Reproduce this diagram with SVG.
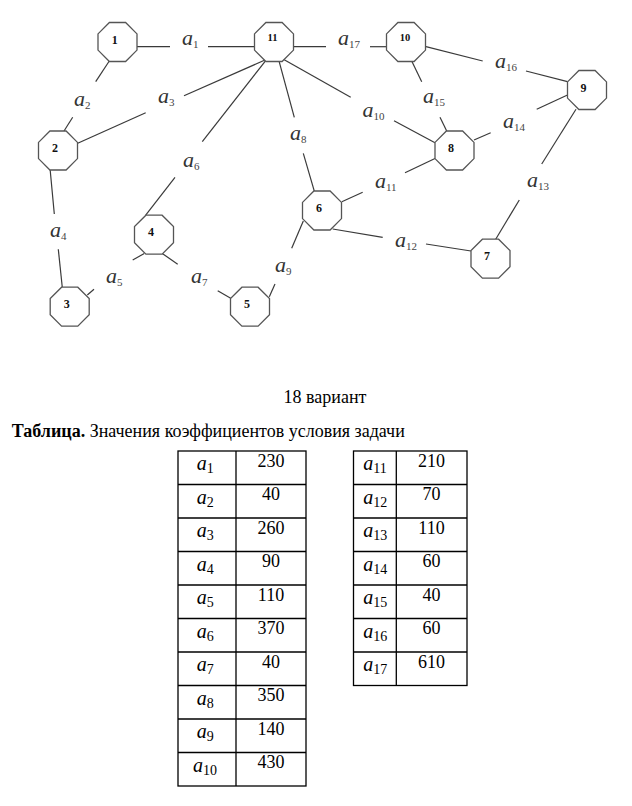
<svg xmlns="http://www.w3.org/2000/svg" width="632" height="806" viewBox="0 0 632 806">
<style>
.oct{fill:#fff;stroke:#555;stroke-width:1.3}
.nl{font-family:"Liberation Serif",serif;font-weight:bold;font-size:12px;fill:#111;text-anchor:middle}
.nl2{font-family:"Liberation Serif",serif;font-weight:bold;font-size:10.5px;fill:#111;text-anchor:middle}
.e line{stroke:#3a3a3a;stroke-width:1.2}
.lbl{font-family:"Liberation Serif",serif;font-style:italic;font-size:22px;fill:#333}
.sub{font-family:"Liberation Serif",serif;font-style:normal;font-size:11px;fill:#444}
.cap{font-family:"Liberation Serif",serif;font-size:18px;fill:#000}
.tb line,.tb rect{stroke:#000;stroke-width:1.3;fill:none}
.ta{font-family:"Liberation Serif",serif;font-style:italic;font-size:20px;fill:#000}
.ts{font-family:"Liberation Serif",serif;font-style:normal;font-size:14px;fill:#000}
.tv{font-family:"Liberation Serif",serif;font-size:18px;fill:#000;text-anchor:middle}
</style>
<defs>
<polygon id="oct" points="-8.1,-19.5 8.1,-19.5 19.5,-8.1 19.5,8.1 8.1,19.5 -8.1,19.5 -19.5,8.1 -19.5,-8.1"/>
</defs>
<rect width="632" height="806" fill="#fff"/>
<g id="connectors" class="e">
<line x1="136.7" y1="46.7" x2="170" y2="46.7"/><line x1="208" y1="46.7" x2="254.5" y2="46.7"/>
<line x1="109.3" y1="61" x2="95.7" y2="81.7"/><line x1="72.7" y1="117.3" x2="64" y2="131"/>
<line x1="266.7" y1="59.3" x2="184" y2="95.7"/><line x1="145.7" y1="112.7" x2="77.7" y2="143.3"/>
<line x1="50" y1="168.3" x2="54.3" y2="214"/><line x1="58.3" y1="249.3" x2="62.3" y2="287.5"/>
<line x1="144.3" y1="253.5" x2="132.7" y2="260"/><line x1="94" y1="289.3" x2="87.3" y2="295"/>
<line x1="266.7" y1="59.3" x2="202.3" y2="141.7"/><line x1="175" y1="177.3" x2="145.7" y2="215.2"/>
<line x1="162.3" y1="253.5" x2="177.7" y2="264.3"/><line x1="217.7" y1="290.7" x2="230.7" y2="298.3"/>
<line x1="278.3" y1="58.3" x2="294.3" y2="117.3"/><line x1="303.3" y1="153.3" x2="314.3" y2="191.2"/>
<line x1="303.3" y1="221" x2="291.7" y2="248.3"/><line x1="275" y1="284" x2="269.3" y2="296.7"/>
<line x1="282" y1="58.5" x2="350.7" y2="97.3"/><line x1="394" y1="120.7" x2="435" y2="142.7"/>
<line x1="435" y1="158.5" x2="405" y2="172.7"/><line x1="362.7" y1="192.3" x2="341.8" y2="201.7"/>
<line x1="332.7" y1="229" x2="382.7" y2="237.3"/><line x1="426" y1="244" x2="471" y2="251"/>
<line x1="576" y1="109.3" x2="541.7" y2="164"/><line x1="519.3" y1="200" x2="495.7" y2="239.2"/>
<line x1="567.5" y1="95" x2="536.7" y2="109.3"/><line x1="490.7" y1="132.7" x2="474" y2="140"/>
<line x1="411.7" y1="61" x2="421.7" y2="81.7"/><line x1="440" y1="117.3" x2="446.7" y2="131"/>
<line x1="426" y1="46.7" x2="482.7" y2="61"/><line x1="526" y1="71" x2="567.5" y2="81.7"/>
<line x1="293.5" y1="46.7" x2="326" y2="46.7"/><line x1="370" y1="46.7" x2="386.5" y2="46.7"/>
</g>
<g id="edge-labels">
<text class="lbl" x="182" y="45">a<tspan class="sub" dy="3">1</tspan></text>
<text class="lbl" x="74" y="106">a<tspan class="sub" dy="3">2</tspan></text>
<text class="lbl" x="158" y="103">a<tspan class="sub" dy="3">3</tspan></text>
<text class="lbl" x="50" y="237">a<tspan class="sub" dy="3">4</tspan></text>
<text class="lbl" x="106" y="283">a<tspan class="sub" dy="3">5</tspan></text>
<text class="lbl" x="183" y="167">a<tspan class="sub" dy="3">6</tspan></text>
<text class="lbl" x="191" y="283">a<tspan class="sub" dy="3">7</tspan></text>
<text class="lbl" x="290" y="140">a<tspan class="sub" dy="3">8</tspan></text>
<text class="lbl" x="275" y="272">a<tspan class="sub" dy="3">9</tspan></text>
<text class="lbl" x="362.5" y="117">a<tspan class="sub" dy="3">10</tspan></text>
<text class="lbl" x="375" y="188">a<tspan class="sub" dy="3">11</tspan></text>
<text class="lbl" x="395" y="247">a<tspan class="sub" dy="3">12</tspan></text>
<text class="lbl" x="527" y="187">a<tspan class="sub" dy="3">13</tspan></text>
<text class="lbl" x="503" y="128">a<tspan class="sub" dy="3">14</tspan></text>
<text class="lbl" x="423" y="103">a<tspan class="sub" dy="3">15</tspan></text>
<text class="lbl" x="495" y="68">a<tspan class="sub" dy="3">16</tspan></text>
<text class="lbl" x="338" y="45">a<tspan class="sub" dy="3">17</tspan></text>
</g>
<g id="node-1"><use href="#oct" class="oct" x="117.5" y="42"/><text class="nl" x="114.7" y="43.5">1</text></g>
<g id="node-11"><use href="#oct" class="oct" x="274" y="42"/><text class="nl2" x="272.5" y="40.7">11</text></g>
<g id="node-10"><use href="#oct" class="oct" x="406" y="42"/><text class="nl2" x="405" y="40.7">10</text></g>
<g id="node-2"><use href="#oct" class="oct" x="58" y="150.5"/><text class="nl" x="55" y="152.3">2</text></g>
<g id="node-9"><use href="#oct" class="oct" x="587" y="90"/><text class="nl" x="583.5" y="91.7">9</text></g>
<g id="node-8"><use href="#oct" class="oct" x="454.5" y="150.5"/><text class="nl" x="451" y="151.7">8</text></g>
<g id="node-4"><use href="#oct" class="oct" x="154" y="234.7"/><text class="nl" x="151" y="236">4</text></g>
<g id="node-6"><use href="#oct" class="oct" x="322" y="210.5"/><text class="nl" x="319" y="212.3">6</text></g>
<g id="node-7"><use href="#oct" class="oct" x="490.5" y="258.7"/><text class="nl" x="487" y="260">7</text></g>
<g id="node-3"><use href="#oct" class="oct" x="69.7" y="306.7"/><text class="nl" x="66.7" y="308.3">3</text></g>
<g id="node-5"><use href="#oct" class="oct" x="250" y="306.7"/><text class="nl" x="247" y="308.3">5</text></g>
<text class="cap" x="325" y="403.3" text-anchor="middle">18 вариант</text>
<text class="cap" x="11.7" y="436.7"><tspan font-weight="bold">Таблица.</tspan> Значения коэффициентов условия задачи</text>
<g id="table-left" class="tb">
<rect x="178" y="451" width="128" height="335"/>
<line x1="236" y1="451" x2="236" y2="786"/>
<line x1="178" y1="484.5" x2="306" y2="484.5"/><line x1="178" y1="518" x2="306" y2="518"/>
<line x1="178" y1="551.5" x2="306" y2="551.5"/><line x1="178" y1="585" x2="306" y2="585"/>
<line x1="178" y1="618.5" x2="306" y2="618.5"/><line x1="178" y1="652" x2="306" y2="652"/>
<line x1="178" y1="685.5" x2="306" y2="685.5"/><line x1="178" y1="719" x2="306" y2="719"/>
<line x1="178" y1="752.5" x2="306" y2="752.5"/>
</g>
<g id="table-right" class="tb">
<rect x="353.5" y="451" width="113.5" height="234.5"/>
<line x1="396.3" y1="451" x2="396.3" y2="685.5"/>
<line x1="353.5" y1="484.5" x2="467" y2="484.5"/><line x1="353.5" y1="518" x2="467" y2="518"/>
<line x1="353.5" y1="551.5" x2="467" y2="551.5"/><line x1="353.5" y1="585" x2="467" y2="585"/>
<line x1="353.5" y1="618.5" x2="467" y2="618.5"/><line x1="353.5" y1="652" x2="467" y2="652"/>
</g>
<g id="table-text">
<text class="ta" x="196.7" y="470">a<tspan class="ts" dy="3.3">1</tspan></text><text class="tv" x="271" y="466.7">230</text>
<text class="ta" x="196.7" y="503.5">a<tspan class="ts" dy="3.3">2</tspan></text><text class="tv" x="271" y="500.2">40</text>
<text class="ta" x="196.7" y="537">a<tspan class="ts" dy="3.3">3</tspan></text><text class="tv" x="271" y="533.7">260</text>
<text class="ta" x="196.7" y="570.5">a<tspan class="ts" dy="3.3">4</tspan></text><text class="tv" x="271" y="567.2">90</text>
<text class="ta" x="196.7" y="604">a<tspan class="ts" dy="3.3">5</tspan></text><text class="tv" x="271" y="600.7">110</text>
<text class="ta" x="196.7" y="637.5">a<tspan class="ts" dy="3.3">6</tspan></text><text class="tv" x="271" y="634.2">370</text>
<text class="ta" x="196.7" y="671">a<tspan class="ts" dy="3.3">7</tspan></text><text class="tv" x="271" y="667.7">40</text>
<text class="ta" x="196.7" y="704.5">a<tspan class="ts" dy="3.3">8</tspan></text><text class="tv" x="271" y="701.2">350</text>
<text class="ta" x="196.7" y="738">a<tspan class="ts" dy="3.3">9</tspan></text><text class="tv" x="271" y="734.7">140</text>
<text class="ta" x="193" y="771.5">a<tspan class="ts" dy="3.3">10</tspan></text><text class="tv" x="271" y="768.2">430</text>
<text class="ta" x="363.3" y="470">a<tspan class="ts" dy="3.3">11</tspan></text><text class="tv" x="431.5" y="466.7">210</text>
<text class="ta" x="363.3" y="503.5">a<tspan class="ts" dy="3.3">12</tspan></text><text class="tv" x="431.5" y="500.2">70</text>
<text class="ta" x="363.3" y="537">a<tspan class="ts" dy="3.3">13</tspan></text><text class="tv" x="431.5" y="533.7">110</text>
<text class="ta" x="363.3" y="570.5">a<tspan class="ts" dy="3.3">14</tspan></text><text class="tv" x="431.5" y="567.2">60</text>
<text class="ta" x="363.3" y="604">a<tspan class="ts" dy="3.3">15</tspan></text><text class="tv" x="431.5" y="600.7">40</text>
<text class="ta" x="363.3" y="637.5">a<tspan class="ts" dy="3.3">16</tspan></text><text class="tv" x="431.5" y="634.2">60</text>
<text class="ta" x="363.3" y="671">a<tspan class="ts" dy="3.3">17</tspan></text><text class="tv" x="431.5" y="667.7">610</text>
</g>
</svg>
